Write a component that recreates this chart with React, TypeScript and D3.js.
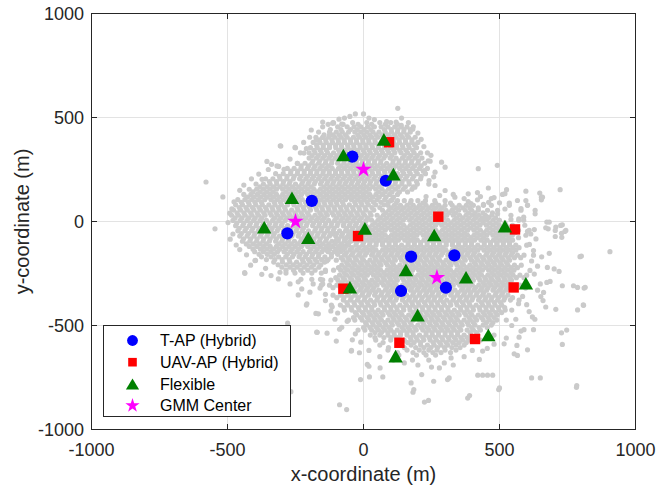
import React from "react";
import * as d3 from "d3";

// Axis ticks (metres)
const xTickValues = [-1000, -500, 0, 500, 1000];
const yTickValues = [-1000, -500, 0, 500, 1000];

// Terrestrial access points (hybrid deployment)
const tApHybrid: [number, number][] = [
  [-41, 312], [82, 196], [-190, 99], [-280, -57],
  [175, -169], [334, -163], [138, -334], [303, -318],
];

// UAV access points (hybrid deployment)
const uavApHybrid: [number, number][] = [
  [94, 381], [275, 23], [-20, -70], [557, -38],
  [-74, -323], [552, -317], [132, -583], [410, -565],
];

// Flexible deployment access points
const flexibleAps: [number, number][] = [
  [75, 395], [-74, 320], [110, 228], [-263, 114], [-365, -28], [-203, -78],
  [5, -33], [260, -65], [520, -22], [156, -233], [377, -268], [597, -297],
  [-50, -316], [199, -450], [459, -546], [118, -647],
];

// Gaussian-mixture cluster centres
const gmmCenters: [number, number][] = [[0, 250], [-250, 0], [270, -270]];

// User positions, north-west hotspot: [y, x values on that row]
const northWestUsers: [number, number[]][] = [
  [544, [126]],
  [517, [-30, 0]],
  [497, [-70, 20, 140]],
  [476, [-112, -40, 12, 60, 100, 165]],
  [455, [-150, -95, -60, -35, -10, 15, 40, 65, 90, 115, 138, 160, 183]],
  [430, [-165, -125, -100, -78, -55, -32, -10, 12, 35, 57, 80, 103, 125, 148, 172]],
  [405, [-175, -150, -128, -105, -82, -60, -37, -15, 8, 30, 53, 75, 98, 120, 143, 166, 190]],
  [380, [-185, -160, -137, -114, -92, -70, -47, -25, -2, 20, 43, 65, 88, 110, 132, 155, 178, 200]],
  [355, [-195, -170, -148, -125, -102, -80, -57, -35, -12, 10, 33, 55, 78, 100, 122, 145, 168, 195]],
  [330, [-200, -178, -155, -132, -110, -87, -65, -42, -20, 3, 25, 48, 70, 93, 115, 138, 162, 186, 210]],
  [305, [-200, -173, -150, -127, -105, -82, -60, -37, -15, 8, 30, 53, 75, 98, 120, 143, 166, 190, 215]],
  [280, [-243, -215, -190, -165, -140, -117, -95, -72, -50, -27, -5, 18, 40, 63, 85, 108, 130, 153, 176, 200, 225]],
  [255, [-280, -255, -230, -206, -183, -160, -137, -115, -92, -70, -47, -25, -2, 20, 43, 65, 88, 110, 133, 156, 180, 206, 235]],
  [230, [-323, -295, -268, -243, -218, -195, -172, -149, -126, -103, -80, -57, -35, -12, 10, 33, 56, 79, 102, 125, 148, 172, 198, 228]],
  [205, [-360, -333, -307, -282, -258, -235, -212, -189, -166, -143, -120, -98, -75, -52, -30, -7, 15, 38, 61, 84, 107, 130, 154, 180, 210]],
  [180, [-395, -368, -343, -319, -296, -273, -250, -227, -204, -181, -158, -135, -113, -90, -68, -45, -22, 0, 23, 46, 69, 92, 116, 141, 168, 198]],
  [155, [-420, -393, -368, -344, -320, -297, -274, -251, -228, -205, -182, -159, -136, -114, -91, -69, -46, -24, -1, 22, 45, 68, 92, 118, 146, 178]],
  [130, [-440, -414, -390, -366, -343, -320, -297, -274, -251, -228, -205, -182, -159, -136, -113, -90, -68, -45, -23, 0, 23, 46, 70, 96, 125]],
  [105, [-462, -436, -411, -387, -363, -340, -317, -294, -271, -248, -225, -202, -179, -156, -134, -111, -89, -66, -44, -21, 2, 25, 50, 78, 105]],
  [80, [-470, -445, -420, -396, -372, -348, -325, -302, -279, -256, -233, -210, -187, -164, -142, -119, -97, -74, -52, -29, -6, 18, 45, 75]],
  [55, [-478, -452, -427, -403, -379, -356, -333, -310, -287, -264, -241, -218, -195, -172, -150, -127, -105, -82, -60, -37, -14, 10, 38]],
  [30, [-485, -460, -435, -410, -386, -362, -339, -316, -293, -270, -247, -224, -201, -178, -155, -133, -110, -88, -65, -43, -20, 4, 28]],
  [5, [-480, -453, -428, -404, -380, -357, -334, -311, -288, -265, -242, -219, -196, -173, -151, -128, -106, -83, -61, -38, -15, 10]],
  [-20, [-470, -444, -419, -395, -371, -348, -325, -302, -279, -256, -233, -210, -187, -164, -142, -119, -97, -74, -52, -29, -6]],
  [-45, [-462, -436, -411, -387, -363, -340, -317, -294, -271, -248, -225, -202, -179, -156, -133, -111, -88, -66, -43, -20]],
  [-70, [-455, -428, -403, -379, -355, -332, -309, -286, -263, -240, -217, -194, -171, -148, -125, -102, -80, -57, -34]],
  [-95, [-445, -418, -393, -369, -346, -323, -300, -277, -254, -231, -208, -185, -162, -139, -116, -93, -70, -47]],
  [-120, [-420, -392, -367, -343, -320, -297, -274, -251, -228, -205, -182, -159, -136, -113, -90, -67]],
  [-145, [-400, -368, -341, -316, -292, -268, -245, -222, -199, -176, -153, -130, -107, -84]],
  [-170, [-375, -340, -312, -286, -261, -237, -214, -190, -166, -142, -118]],
  [-195, [-330, -298, -271, -246, -221, -196, -171, -143]],
  [-220, [-300, -270, -244, -218, -192, -164]],
  [-248, [-285, -252, -222, -190, -155]],
  [-278, [-230, -190, -158]],
];

// Users between the rows above, north-west hotspot
const northWestInfill: [number, number[]][] = [
  [467, [-130, -75, -20, 30, 80, 125]],
  [442, [-122, -83, -48, -23, 2, 27, 77, 102, 126, 149, 172]],
  [417, [-145, -112, -89, -66, -21, 1, 23, 46, 68, 91, 114, 136, 160]],
  [392, [-162, -139, -116, -93, -71, -48, -26, -3, 19, 42, 87, 109, 131, 154, 178]],
  [367, [-172, -148, -125, -103, -81, -58, -36, -13, 9, 31, 54, 77, 121, 143, 166, 189]],
  [342, [-182, -159, -136, -91, -68, -46, -23, -1, 21, 44, 66, 89, 111, 133, 156, 181]],
  [317, [-189, -166, -143, -121, -98, -76, -53, -31, -8, 14, 36, 59, 81, 104, 150, 174, 198]],
  [292, [-186, -161, -138, -116, -93, -71, -48, -26, -3, 19, 41, 64, 109, 131, 154, 178, 202, 238]],
  [267, [-229, -202, -178, -152, -128, -83, -61, -38, -16, 7, 29, 51, 74, 97, 119, 142, 164, 188, 212]],
  [242, [-267, -242, -218, -194, -171, -148, -126, -103, -81, -58, -36, -13, 9, 31, 54, 77, 99, 144, 168, 193, 220]],
  [217, [-309, -281, -255, -230, -206, -183, -160, -137, -114, -91, -68, -46, -23, -1, 21, 44, 67, 113, 136, 160, 185, 212]],
  [192, [-346, -320, -294, -270, -223, -200, -177, -154, -131, -109, -86, -63, -41, -18, 4, 26, 49, 72, 95, 118, 142, 167, 195]],
  [167, [-381, -355, -331, -307, -284, -261, -238, -215, -192, -146, -124, -101, -79, -56, -33, -11, 11, 34, 57, 104, 128, 154, 183]],
  [142, [-406, -380, -356, -332, -285, -262, -239, -216, -193, -170, -147, -125, -102, -80, -57, -35, -12, 10, 56, 80, 105, 132, 162]],
  [117, [-427, -402, -378, -354, -331, -308, -285, -262, -239, -193, -170, -147, -124, -101, -79, -56, -34, -11, 11, 34, 58, 83, 110]],
  [92, [-449, -423, -399, -375, -328, -305, -282, -259, -236, -213, -190, -167, -145, -122, -100, -77, -32, -10, 13, 37, 64, 91]],
  [67, [-457, -432, -408, -384, -360, -336, -313, -290, -244, -221, -198, -175, -153, -130, -108, -85, -63, -40, -17, 6, 31, 60]],
  [42, [-465, -440, -415, -391, -367, -344, -321, -298, -275, -252, -229, -206, -161, -138, -116, -93, -71, -48, -25, -2, 24]],
  [17, [-472, -447, -422, -398, -374, -327, -304, -281, -258, -235, -212, -189, -166, -144, -99, -76, -54, -31, -8, 16]],
  [-8, [-466, -440, -416, -392, -368, -345, -322, -299, -253, -230, -207, -184, -162, -139, -117, -94, -72, -49, -26, -2]],
  [-33, [-457, -431, -407, -383, -359, -336, -313, -290, -267, -244, -221, -175, -153, -130, -108, -63, -40, -17]],
  [-58, [-449, -423, -399, -375, -351, -328, -282, -259, -236, -213, -190, -167, -144, -122, -99, -77, -54, -31]],
  [-83, [-441, -415, -391, -367, -343, -320, -297, -274, -228, -205, -182, -159, -136, -91, -68, -45]],
  [-108, [-431, -405, -381, -357, -311, -288, -265, -242, -219, -196, -173, -150, -127, -104, -81, -58]],
  [-133, [-406, -379, -355, -331, -308, -285, -262, -239, -193, -170, -147, -124, -101, -78]],
  [-158, [-384, -354, -328, -280, -256, -233, -210, -187, -164, -118, -95]],
  [-183, [-357, -326, -299, -273, -225, -202, -178, -154, -130]],
  [-208, [-314, -284, -258, -233, -208, -183, -157]],
  [-234, [-285, -257, -231, -205, -178]],
];

// User positions, south-east hotspot: [y, x values on that row]
const southEastUsers: [number, number[]][] = [
  [100, [100, 125, 150, 175, 200, 228, 262, 300]],
  [78, [90, 113, 136, 160, 183, 206, 230, 253, 277, 300, 326, 352, 378, 404, 441, 470, 536, 603]],
  [54, [70, 93, 116, 140, 163, 186, 210, 233, 256, 280, 303, 326, 350, 374, 398, 422, 456, 493, 579, 631]],
  [30, [50, 73, 96, 120, 143, 166, 190, 213, 236, 260, 283, 306, 330, 353, 377, 400, 424, 448, 472, 542]],
  [6, [30, 53, 76, 100, 123, 146, 170, 193, 216, 240, 263, 286, 310, 333, 356, 380, 404, 428, 452, 476, 500, 571, 589]],
  [-18, [-30, 8, 32, 55, 78, 102, 125, 148, 172, 195, 218, 242, 265, 288, 312, 335, 358, 382, 405, 428, 452, 476, 500, 524, 548, 593]],
  [-42, [-60, -20, 10, 33, 56, 80, 103, 126, 150, 173, 196, 220, 243, 266, 290, 313, 336, 360, 383, 406, 430, 453, 476, 500, 523, 547, 570, 609]],
  [-66, [-80, -45, -15, 10, 33, 56, 80, 103, 126, 150, 173, 196, 220, 243, 266, 290, 313, 336, 360, 383, 406, 430, 453, 476, 500, 523, 547, 597]],
  [-90, [-100, -70, -40, -12, 12, 35, 58, 82, 105, 128, 152, 175, 198, 222, 245, 268, 292, 315, 338, 362, 385, 408, 432, 455, 478, 502, 525, 548]],
  [-114, [-80, -55, -28, -3, 22, 46, 70, 94, 117, 140, 164, 187, 210, 234, 257, 280, 304, 327, 350, 374, 397, 420, 444, 467, 490, 514, 537, 560, 600]],
  [-138, [-135, -100, -76, -50, -25, 0, 23, 46, 70, 93, 116, 140, 163, 186, 210, 233, 256, 280, 303, 326, 350, 373, 396, 420, 443, 466, 490, 513, 536, 560]],
  [-162, [-70, -44, -18, 6, 30, 53, 76, 100, 123, 146, 170, 193, 216, 240, 263, 286, 310, 333, 356, 380, 403, 426, 450, 473, 496, 520, 543, 566, 590, 625]],
  [-186, [-100, -75, -50, -25, 0, 24, 47, 70, 94, 117, 140, 164, 187, 210, 234, 257, 280, 304, 327, 350, 374, 397, 420, 444, 467, 490, 514, 537]],
  [-210, [-80, -55, -30, -5, 18, 41, 64, 88, 111, 134, 158, 181, 204, 228, 251, 274, 298, 321, 344, 368, 391, 414, 438, 461, 484, 508, 531, 555, 580]],
  [-234, [-140, -110, -84, -58, -32, -7, 17, 40, 63, 87, 110, 133, 157, 180, 203, 227, 250, 273, 297, 320, 343, 367, 390, 413, 437, 460, 483, 507, 530, 553]],
  [-258, [-88, -62, -36, -10, 14, 37, 60, 84, 107, 130, 154, 177, 200, 224, 247, 270, 294, 317, 340, 364, 387, 410, 434, 457, 480, 504, 527, 550, 575, 600]],
  [-282, [-120, -94, -68, -42, -16, 8, 31, 54, 78, 101, 124, 148, 171, 194, 218, 241, 264, 288, 311, 334, 358, 381, 404, 428, 451, 474, 498, 521, 544]],
  [-306, [-155, -125, -98, -72, -46, -20, 4, 27, 50, 74, 97, 120, 144, 167, 190, 214, 237, 260, 284, 307, 330, 354, 377, 400, 424, 447, 470, 494, 517, 540, 575]],
  [-330, [-66, -40, -14, 10, 33, 56, 80, 103, 126, 150, 173, 196, 220, 243, 266, 290, 313, 336, 360, 383, 406, 430, 453, 476, 500, 523]],
  [-354, [-112, -85, -58, -32, -6, 18, 41, 64, 88, 111, 134, 158, 181, 204, 228, 251, 274, 298, 321, 344, 368, 391, 414, 438, 461, 484, 508, 531]],
  [-378, [-74, -48, -22, 3, 26, 49, 73, 96, 119, 143, 166, 189, 213, 236, 259, 283, 306, 329, 353, 376, 399, 423, 446, 469, 493, 516, 540, 572]],
  [-402, [-118, -85, -58, -32, -6, 18, 41, 64, 88, 111, 134, 158, 181, 204, 228, 251, 274, 298, 321, 344, 368, 391, 414, 438, 461, 484, 508]],
  [-426, [-70, -43, -16, 8, 31, 54, 78, 101, 124, 148, 171, 194, 218, 241, 264, 288, 311, 334, 358, 381, 404, 428, 451, 474, 498, 521, 545]],
  [-450, [-24, 2, 26, 49, 72, 96, 119, 142, 166, 189, 212, 236, 259, 282, 306, 329, 352, 376, 399, 422, 446, 469, 492]],
  [-474, [-55, -32, -5, 20, 43, 66, 90, 113, 136, 160, 183, 206, 230, 253, 276, 300, 323, 346, 370, 393, 416, 440, 463, 490, 525]],
  [-498, [12, 36, 60, 83, 106, 130, 153, 176, 200, 223, 246, 270, 293, 316, 340, 363, 386, 410, 440, 470]],
  [-522, [-20, 5, 30, 55, 78, 101, 124, 148, 171, 194, 218, 241, 264, 288, 311, 334, 358, 381, 404, 430]],
  [-546, [25, 60, 90, 113, 136, 160, 183, 206, 230, 253, 276, 300, 323, 346, 370, 395, 420, 480]],
  [-570, [45, 100, 150, 175, 198, 222, 245, 268, 292, 315, 340, 365, 390, 430]],
  [-594, [60, 125, 175, 210, 235, 260, 285, 310, 340, 370]],
  [-618, [90, 160, 205, 240, 270, 300, 340]],
  [-642, [130, 195, 230, 265]],
  [-666, [110, 180, 240]],
];

// Users between the rows above, south-east hotspot
const southEastInfill: [number, number[]][] = [
  [89, [120, 172, 218, 265, 320]],
  [66, [102, 125, 148, 172, 195, 218, 242, 265, 289, 339, 365, 391, 422]],
  [42, [82, 105, 128, 152, 175, 198, 222, 245, 268, 292, 315, 338, 386, 410, 439, 474]],
  [18, [62, 85, 108, 132, 155, 178, 202, 225, 248, 272, 295, 342, 365, 388, 412, 436, 460, 486]],
  [-6, [42, 65, 88, 112, 135, 182, 205, 228, 252, 275, 298, 322, 345, 368, 392, 416, 440, 464, 488, 520]],
  [-30, [-10, 20, 44, 67, 90, 114, 137, 160, 184, 207, 230, 254, 300, 324, 347, 370, 394, 417, 464, 488, 512, 536, 565]],
  [-54, [-40, -5, 22, 45, 68, 115, 138, 162, 185, 208, 232, 255, 278, 302, 325, 348, 372, 418, 442, 465, 488, 512, 535, 558]],
  [-78, [-62, -30, -2, 22, 45, 68, 92, 115, 138, 162, 185, 232, 255, 278, 302, 325, 348, 372, 395, 418, 442, 488, 512, 535, 570]],
  [-102, [-55, -26, 0, 24, 47, 70, 94, 117, 164, 187, 210, 234, 257, 280, 304, 327, 350, 374, 397, 444, 467, 490, 514, 537]],
  [-126, [-92, -68, -42, -16, 10, 34, 82, 106, 129, 152, 176, 199, 222, 246, 269, 292, 339, 362, 386, 409, 432, 456, 479, 502, 526, 549, 572]],
  [-150, [-63, -38, -12, 12, 35, 58, 82, 105, 128, 152, 198, 222, 245, 268, 292, 315, 338, 362, 385, 408, 455, 478, 502, 525, 548]],
  [-174, [-82, -57, -31, -6, 42, 65, 88, 112, 135, 158, 182, 205, 228, 252, 275, 322, 345, 368, 392, 415, 438, 462, 485, 508, 532, 555, 578]],
  [-198, [-62, -38, -12, 12, 36, 58, 82, 106, 152, 176, 198, 222, 246, 268, 292, 316, 338, 362, 408, 432, 456, 478, 502, 526]],
  [-222, [-92, -68, -42, -18, 6, 30, 52, 100, 122, 146, 170, 192, 216, 240, 262, 286, 310, 356, 380, 402, 426, 450, 472, 496, 520, 542, 566]],
  [-246, [-71, -45, -20, 5, 28, 52, 75, 98, 122, 145, 168, 215, 238, 262, 285, 308, 332, 355, 378, 402, 425, 472, 495, 518, 542]],
  [-270, [-102, -75, -49, -23, 2, 48, 72, 96, 118, 142, 166, 188, 212, 236, 258, 306, 328, 352, 376, 398, 422, 446, 468, 492, 516, 538, 562, 590]],
  [-294, [-81, -55, -29, -4, 20, 42, 66, 90, 112, 160, 182, 206, 230, 252, 276, 300, 322, 346, 370, 392, 440, 462, 486, 510, 532]],
  [-318, [-112, -85, -59, -33, -8, 16, 38, 86, 108, 132, 156, 178, 202, 226, 248, 272, 296, 318, 366, 388, 412, 436, 458, 482, 506, 528]],
  [-342, [-80, -53, -27, -2, 22, 44, 68, 92, 114, 138, 184, 208, 232, 254, 278, 302, 324, 348, 372, 394, 418, 442, 488, 512]],
  [-366, [-98, -72, -45, -19, 6, 52, 76, 100, 122, 146, 170, 192, 216, 240, 262, 286, 332, 356, 380, 402, 426, 450, 472, 496, 520, 548]],
  [-390, [-61, -35, -10, 14, 38, 61, 84, 108, 154, 178, 201, 224, 248, 271, 294, 318, 341, 364, 388, 434, 458, 481, 504]],
  [-414, [-72, -45, -19, 6, 30, 76, 100, 122, 146, 170, 192, 216, 240, 262, 286, 310, 356, 380, 402, 426, 450, 472, 496, 519]],
  [-438, [-30, -4, 20, 42, 66, 90, 112, 136, 182, 206, 230, 252, 276, 300, 322, 346, 370, 392, 440, 462, 486, 508]],
  [-462, [-37, -11, 14, 38, 60, 108, 130, 154, 178, 200, 224, 248, 270, 294, 318, 340, 388, 410, 434, 458, 480]],
  [-486, [8, 32, 54, 78, 102, 124, 148, 172, 218, 242, 264, 288, 312, 334, 358, 382, 404, 452, 476]],
  [-510, [0, 24, 48, 72, 94, 142, 164, 188, 212, 234, 258, 282, 304, 328, 352, 398, 425, 455]],
  [-534, [42, 66, 90, 112, 136, 160, 182, 230, 252, 276, 300, 322, 346, 392, 416]],
  [-558, [42, 75, 101, 124, 172, 194, 218, 242, 264, 288, 312, 334, 358, 382, 408]],
  [-582, [72, 125, 162, 186, 210, 256, 280, 304, 328, 352, 378]],
  [-606, [92, 150, 192, 222, 248, 272, 298, 325, 355]],
  [-630, [125, 182, 222, 255, 285, 320]],
];

// Users on the fringes of both hotspots
const fringeUsers: [number, number][] = [
  [-498, -5], [-492, 40], [-476, 95], [-455, 150], [-440, 175], [-412, 205], [-385, 228],
  [-350, 250], [-338, 275], [-270, 300], [-232, 330], [-210, 350], [-198, 405], [-192, 440],
  [-150, 478], [-90, 492], [-50, 505], [40, 490], [85, 480], [120, 478], [200, 425],
  [212, 395], [222, 360], [235, 330], [245, 290], [258, 215], [240, 180], [-480, -60],
  [-490, -85], [-455, -135], [-430, -160], [-415, -210], [-360, -225], [-340, -260],
  [-270, -300], [-240, -290], [-185, -300], [610, -110], [625, -140], [618, -190],
  [640, -215], [612, -235], [596, -320], [585, -360], [570, -395], [560, -470], [545, -500],
  [525, -560], [480, -590], [455, -610], [400, -620], [370, -650], [330, -690], [250, -700],
  [200, -690], [150, -680], [60, -650], [20, -620], [-10, -580], [-30, -540], [-60, -480],
  [-95, -440], [-115, -410], [-140, -350], [-150, -300], [-140, -240], [-135, -190],
  [-125, -120], [-115, -60], [520, 60], [500, 90], [470, 110], [430, 120], [370, 110],
  [330, 130], [280, 125], [230, 120], [640, -330], [660, -380], [600, -400], [630, -470],
  [590, -520], [650, -300], [615, -60], [655, -170], [385, 96], [419, 104], [480, 115],
  [654, 104], [395, 86], [460, 92],
];

// Isolated users away from the two hotspots
const scatteredUsers: [number, number][] = [
  [-110, 474], [-80, 468], [139, 462], [181, 444], [-304, 363], [-252, 356], [-219, 329],
  [-220, 380], [-355, 289], [-312, 265], [-579, 190], [-517, 118], [-484, 61], [-546, -35],
  [-468, -113], [-437, -246], [-374, -254], [-397, -187], [-306, 364], [-250, 354], [-174, 391],
  [-149, 404], [-125, 415], [-113, 472], [-373, 203], [-318, 267], [-292, 251], [-243, 279],
  [492, 270], [422, 254], [248, 318], [287, 285], [300, 261], [224, 245], [263, 237],
  [241, 197], [263, 173], [300, 149], [336, 117], [385, 133], [326, 53], [189, 165], [188, 369],
  [459, 161], [419, 139], [526, 153], [520, 134], [597, 146], [648, 137], [654, 117], [723, 153],
  [441, 82], [536, 88], [597, 101], [603, 79], [579, 62], [631, 37], [589, 21], [571, 13],
  [542, 10], [493, 37], [456, 21], [438, 13], [414, 21], [674, -3], [628, -39], [603, -47],
  [679, -35], [707, -27], [705, -43], [731, -16], [740, -48], [729, -76], [705, -72], [634, -84],
  [906, -145], [683, -3], [725, -19], [744, -43], [728, -57], [670, -30], [566, 101], [511, 130],
  [658, 117], [796, -169], [683, -153], [676, -221], [701, -228], [719, -240], [628, -253],
  [674, -293], [686, -288], [731, -309], [772, -309], [787, -317], [811, -320], [662, -341],
  [652, -361], [670, -411], [707, -422], [809, -403], [787, -425], [609, -433], [621, -459],
  [625, -520], [728, -535], [747, -522], [731, -591], [579, -527], [572, -556], [564, -596],
  [603, -617], [554, -636], [566, -644], [517, -588], [420, -739], [438, -739], [456, -739],
  [475, -739], [618, -752], [650, -752], [783, -797], [497, -808], [426, -663], [438, -623],
  [801, -166], [815, -316], [808, -401], [-88, -518], [-100, -575], [-45, -623], [-15, -631],
  [20, -696], [22, -747], [61, -704], [71, -747], [-11, -760], [-88, -881], [-62, -904],
  [175, -776], [214, -736], [258, -768], [309, -760], [182, -821], [224, -868], [239, -860],
  [383, -849], [279, -704], [297, -680], [322, -656], [-240, -353], [-210, -402], [-175, -442],
  [-170, -533], [-134, -537], [-80, -509], [-41, -569], [-44, -620], [14, -687], [-267, -818],
  [-227, -324], [-197, -340], [-208, -396], [-166, -444], [-279, -489], [-172, -532],
  [-307, -244], [-313, -276], [-436, -249], [-399, -188], [500, -800], [390, -837], [185, -808],
  [315, -752], [784, -789], [-150, -280], [-160, -320], [-140, -380], [-120, -430], [-105, -470],
];

const FONT = "'Liberation Sans', Arial, Helvetica, sans-serif";
const INK = "#262626";

function trianglePath(cx: number, cy: number, half: number, h: number) {
  return `M${cx},${cy - h / 2}L${cx + half},${cy + h / 2}L${cx - half},${cy + h / 2}Z`;
}

function starPath(cx: number, cy: number, outer: number) {
  const p = d3.path();
  const inner = outer * 0.382;
  for (let i = 0; i < 10; i++) {
    const r = i % 2 === 0 ? outer : inner;
    const a = -Math.PI / 2 + (i * Math.PI) / 5;
    const px = cx + r * Math.cos(a);
    const py = cy + r * Math.sin(a);
    if (i === 0) p.moveTo(px, py);
    else p.lineTo(px, py);
  }
  p.closePath();
  return p.toString();
}

const rowsToPoints = (rows: [number, number[]][]) =>
  rows.flatMap(([yy, xs]) => xs.map((xx) => [xx, yy] as [number, number]));

export default function App() {
  const width = 672;
  const height = 491;
  const x = d3.scaleLinear().domain([-1000, 1000]).range([91.5, 635.5]);
  const y = d3.scaleLinear().domain([-1000, 1000]).range([429.5, 13.5]);
  const [x0, x1] = x.range();
  const [y0, y1] = y.range();
  const tick = 5.5;

  const users: [number, number][] = [
    ...rowsToPoints(northWestUsers),
    ...rowsToPoints(northWestInfill),
    ...rowsToPoints(southEastUsers),
    ...rowsToPoints(southEastInfill),
    ...fringeUsers,
    ...scatteredUsers,
  ];

  const legendRows = [
    { label: "T-AP (Hybrid)", kind: "circle" },
    { label: "UAV-AP (Hybrid)", kind: "square" },
    { label: "Flexible", kind: "triangle" },
    { label: "GMM Center", kind: "star" },
  ];
  const legendX = 103.5;
  const legendY = 325.5;
  const legendRowY = d3.scaleLinear().domain([0, 3]).range([340.5, 405.6]);

  const legendMarker = (kind: string, cx: number, cy: number) => {
    if (kind === "circle") return <circle cx={cx} cy={cy} r={5.4} fill="#0000ff" />;
    if (kind === "square") return <rect x={cx - 4.3} y={cy - 4.3} width={8.6} height={8.6} fill="#ff0000" />;
    if (kind === "triangle") return <path d={trianglePath(cx, cy, 6.6, 11)} fill="#008000" />;
    return <path d={starPath(cx, cy, 7.5)} fill="#ff00ff" />;
  };

  return (
    <svg
      width={width}
      height={height}
      style={{ position: "absolute", left: 0, top: 0, background: "#fff" }}
      fontFamily={FONT}
    >
      <rect x={0} y={0} width={width} height={height} fill="#fff" />
      {/* grid */}
      <g stroke="#e3e3e3" strokeWidth={1}>
        {xTickValues.slice(1, -1).map((t) => (
          <line key={`gx${t}`} x1={x(t)} x2={x(t)} y1={y1} y2={y0} />
        ))}
        {yTickValues.slice(1, -1).map((t) => (
          <line key={`gy${t}`} x1={x0} x2={x1} y1={y(t)} y2={y(t)} />
        ))}
      </g>

      {/* users */}
      <g fill="#cacaca">
        {users.map(([ux, uy], i) => (
          <circle key={i} cx={x(ux)} cy={y(uy)} r={2.6} />
        ))}
      </g>

      {/* access points and centres */}
      <g fill="#0000ff">
        {tApHybrid.map(([px, py], i) => (
          <circle key={i} cx={x(px)} cy={y(py)} r={6.1} />
        ))}
      </g>
      <g fill="#ff0000">
        {uavApHybrid.map(([px, py], i) => (
          <rect key={i} x={x(px) - 5.2} y={y(py) - 5.2} width={10.4} height={10.4} />
        ))}
      </g>
      <g fill="#008000">
        {flexibleAps.map(([px, py], i) => (
          <path key={i} d={trianglePath(x(px), y(py), 7.2, 12.6)} />
        ))}
      </g>
      <g fill="#ff00ff">
        {gmmCenters.map(([px, py], i) => (
          <path key={i} d={starPath(x(px), y(py), 8.6)} />
        ))}
      </g>

      {/* axes box and ticks */}
      <rect x={x0} y={y1} width={x1 - x0} height={y0 - y1} fill="none" stroke={INK} strokeWidth={1} />
      <g stroke={INK} strokeWidth={1}>
        {xTickValues.map((t) => (
          <g key={`tx${t}`}>
            <line x1={x(t)} x2={x(t)} y1={y0} y2={y0 - tick} />
            <line x1={x(t)} x2={x(t)} y1={y1} y2={y1 + tick} />
          </g>
        ))}
        {yTickValues.map((t) => (
          <g key={`ty${t}`}>
            <line x1={x0} x2={x0 + tick} y1={y(t)} y2={y(t)} />
            <line x1={x1} x2={x1 - tick} y1={y(t)} y2={y(t)} />
          </g>
        ))}
      </g>
      <g fill={INK} fontSize={18}>
        {xTickValues.map((t) => (
          <text key={`lx${t}`} x={x(t)} y={456} textAnchor="middle">
            {t}
          </text>
        ))}
        {yTickValues.map((t) => (
          <text key={`ly${t}`} x={84} y={y(t) + 6.5} textAnchor="end">
            {t}
          </text>
        ))}
      </g>
      <text x={(x0 + x1) / 2} y={481} textAnchor="middle" fontSize={20} fill={INK}>
        x-coordinate (m)
      </text>
      <text
        transform={`translate(29,${(y0 + y1) / 2}) rotate(-90)`}
        textAnchor="middle"
        fontSize={20}
        fill={INK}
      >
        y-coordinate (m)
      </text>

      {/* legend */}
      <rect x={legendX} y={legendY} width={187} height={91} fill="#fff" stroke={INK} strokeWidth={1} />
      {legendRows.map((row, i) => (
        <g key={row.label}>
          {legendMarker(row.kind, 132.5, legendRowY(i))}
          <text x={160} y={legendRowY(i) + 5.7} fontSize={16} fill="#000">
            {row.label}
          </text>
        </g>
      ))}
    </svg>
  );
}
